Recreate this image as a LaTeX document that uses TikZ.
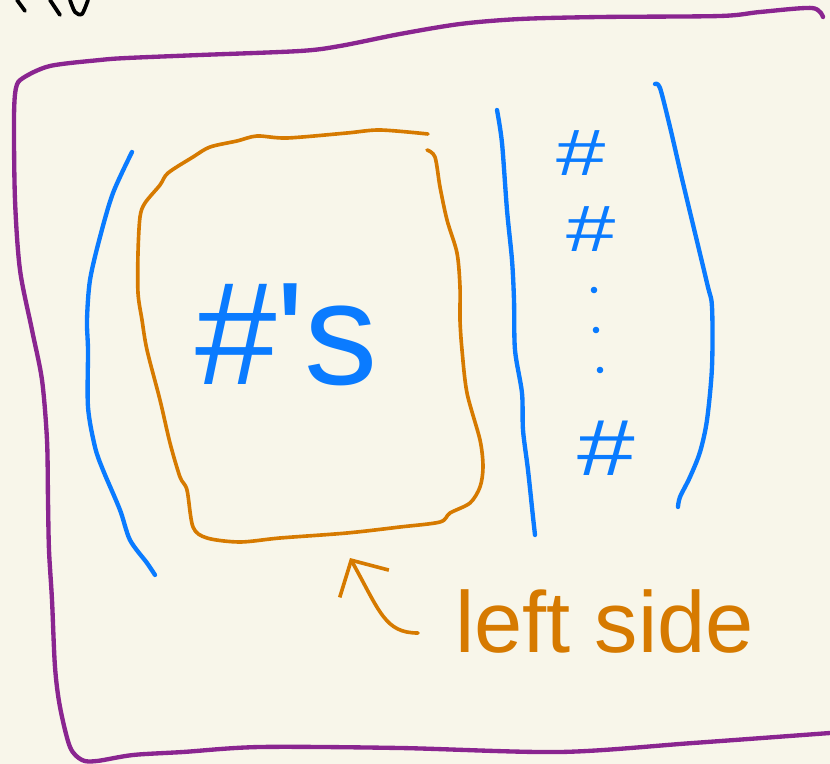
\documentclass[tikz,border=0pt]{standalone}
\usepackage{fontspec}
\setmainfont{Liberation Sans}
\usetikzlibrary{arrows.meta}
\definecolor{paper}{HTML}{F8F6EA}
\definecolor{sketchpurple}{HTML}{8A2590}
\definecolor{sketchblue}{HTML}{0A7BFF}
\definecolor{sketchorange}{HTML}{D67A00}

\begin{document}
\begin{tikzpicture}[x=0.03cm,y=-0.03cm,
    pen/.style={line width=3.7pt,line cap=round,line join=round},
    frame/.style={pen,sketchpurple},
    bracket/.style={pen,sketchblue},
    boxline/.style={pen,sketchorange,line width=3.1pt},
    hashmark/.style={text=sketchblue,font=\fontsize{56}{56}\selectfont,inner sep=0pt,anchor=base},
    note/.style={text=sketchorange,font=\fontsize{74}{74}\selectfont,inner sep=0pt,anchor=base west}]
  \fill[paper] (0,0) rectangle (830,764);
  \useasboundingbox (0,0) rectangle (830,764);

  % scraps of writing cut off at the top
  \draw[pen,black,line width=3.2pt] (17,0) -- (25,11);
  \draw[pen,black,line width=3.2pt] (50,0) -- (60,15);
  \draw[pen,black,line width=3.2pt] plot[smooth] coordinates {(70,0) (75,12) (82,14) (88,0)};

  % outer frame
  \draw[frame] plot[smooth] coordinates {(823,17) (812,8) (760,12) (720,16) (600,17) (520,19)
    (460,24) (400,34) (340,46) (300,51) (200,55) (127,58) (100,60) (50,66) (23,78) (16,88)
    (14,118) (15,200) (20,270) (32,330) (42,380) (47,440) (48,500) (49,550) (52,600)
    (55,667) (60,707) (70,747) (82,760) (97,761) (133,755) (183,752) (260,747) (400,748)
    (560,752) (693,743) (830,733)};

  % left side box
  \draw[boxline] plot[smooth] coordinates {(427,150) (435,157) (440,187) (447,220) (457,253)
    (460,287) (460,320) (462,350) (467,393) (480,440) (483,467) (480,487) (470,503) (450,513)
    (440,522) (400,527) (347,533) (280,538) (240,542) (207,538) (193,527) (187,490) (180,477)
    (170,443) (160,400) (147,350) (142,320) (138,293) (138,253) (140,217) (145,203) (160,185)
    (168,173) (193,157) (210,147) (237,141) (257,136) (287,138) (347,133) (380,130) (428,134)};

  % brackets and the bar
  \draw[bracket] plot[smooth] coordinates {(132,152) (113,193) (100,237) (90,280) (87,320)
    (88,350) (88,407) (95,447) (103,470) (120,510) (130,540) (147,563) (155,575)};
  \draw[bracket] plot[smooth] coordinates {(497,110) (502,143) (507,210) (512,260) (514,300)
    (515,350) (522,393) (523,430) (528,470) (533,517) (535,535)};
  \draw[bracket] plot[smooth] coordinates {(655,84) (660,88) (670,127) (683,183) (707,283)
    (712,307) (712,367) (707,420) (700,452) (690,477) (680,497) (678,507)};

  \node[hashmark,font=\fontsize{125}{125}\selectfont,anchor=base west] (counts)
    at (195,385) {\#\textquotesingle s};
  \node[hashmark] (first) at (581,176) {\scalebox{1.35}[1]{\#}};
  \node[hashmark] (second) at (591,252) {\scalebox{1.35}[1]{\#}};
  \fill[sketchblue] (594,290) circle (2.8pt) (596,330) circle (2.8pt) (600,370) circle (2.8pt);
  \node[hashmark,font=\fontsize{68}{68}\selectfont] (last) at (606,476) {\scalebox{1.3}[1]{\#}};

  \node[note] (label) at (455,652) {left side};
  \coordinate (tail) at (418,633);
  \coordinate (tip) at (350,558);
  \draw[boxline,-{Straight Barb[length=23pt,width=48pt]}] (tail)
    .. controls (385,633) and (380,612) .. (tip);
\end{tikzpicture}
\end{document}
